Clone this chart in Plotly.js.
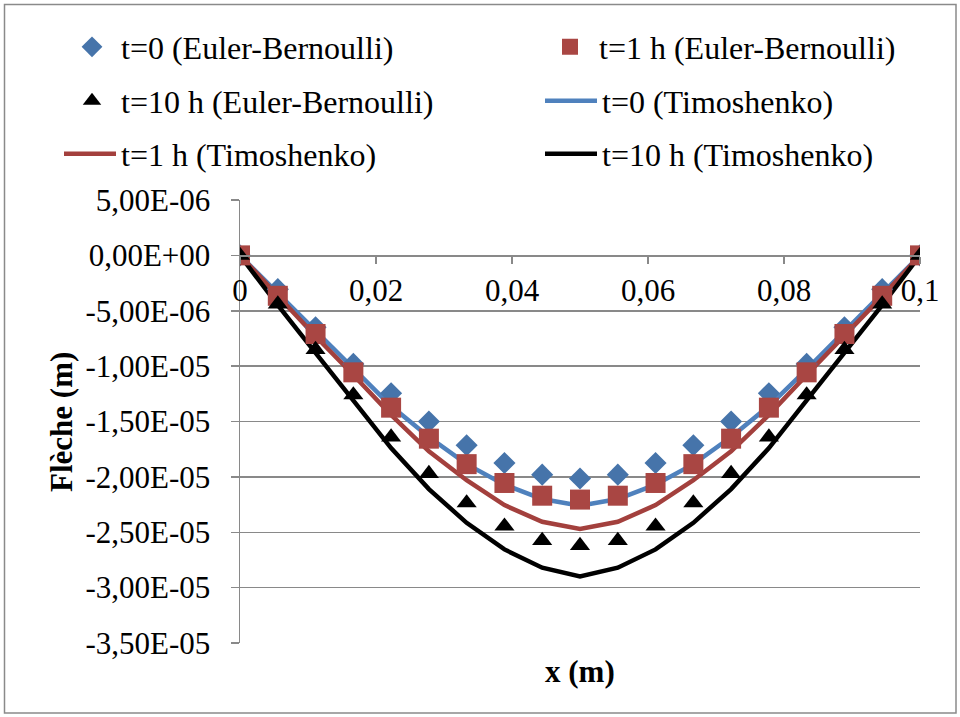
<!DOCTYPE html>
<html><head><meta charset="utf-8">
<script src="https://cdn.plot.ly/plotly-3.0.1.min.js"></script>
<style>html,body{margin:0;padding:0;background:#fff}#chart{width:960px;height:717px}</style>
</head><body><div id="chart"></div>
<script>
// x positions (m)
const xPos = [0, 0.00556, 0.01111, 0.01667, 0.02222, 0.02778, 0.03333, 0.03889, 0.04444, 0.05,
              0.05556, 0.06111, 0.06667, 0.07222, 0.07778, 0.08333, 0.08889, 0.09444, 0.1];
// Euler-Bernoulli (markers)
const ebT0  = [0, -3.05e-6, -6.5e-6, -9.8e-6, -1.245e-5, -1.5e-5, -1.715e-5, -1.875e-5, -1.98e-5, -2.015e-5,
               -1.98e-5, -1.875e-5, -1.715e-5, -1.5e-5, -1.245e-5, -9.8e-6, -6.5e-6, -3.05e-6, 0];
const ebT1  = [0, -3.65e-6, -7.1e-6, -1.056e-5, -1.375e-5, -1.655e-5, -1.885e-5, -2.055e-5, -2.17e-5, -2.205e-5,
               -2.17e-5, -2.055e-5, -1.885e-5, -1.655e-5, -1.375e-5, -1.056e-5, -7.1e-6, -3.65e-6, 0];
const ebT10 = [0, -4.4e-6, -8.5e-6, -1.26e-5, -1.64e-5, -1.97e-5, -2.235e-5, -2.445e-5, -2.575e-5, -2.62e-5,
               -2.575e-5, -2.445e-5, -2.235e-5, -1.97e-5, -1.64e-5, -1.26e-5, -8.5e-6, -4.4e-6, 0];
// Timoshenko (lines)
const tiT0  = [0, -3.4e-6, -6.9e-6, -1.03e-5, -1.36e-5, -1.64e-5, -1.885e-5, -2.07e-5, -2.2e-5, -2.26e-5,
               -2.2e-5, -2.07e-5, -1.885e-5, -1.64e-5, -1.36e-5, -1.03e-5, -6.9e-6, -3.4e-6, 0];
const tiT1  = [0, -3.7e-6, -7.3e-6, -1.08e-5, -1.44e-5, -1.77e-5, -2.03e-5, -2.255e-5, -2.405e-5, -2.47e-5,
               -2.405e-5, -2.255e-5, -2.03e-5, -1.77e-5, -1.44e-5, -1.08e-5, -7.3e-6, -3.7e-6, 0];
const tiT10 = [0, -4.5e-6, -8.8e-6, -1.31e-5, -1.74e-5, -2.11e-5, -2.415e-5, -2.655e-5, -2.82e-5, -2.9e-5,
               -2.82e-5, -2.655e-5, -2.415e-5, -2.11e-5, -1.74e-5, -1.31e-5, -8.8e-6, -4.5e-6, 0];

const seriesNames = ['t=0 (Euler-Bernoulli)', 't=1 h (Euler-Bernoulli)', 't=10 h (Euler-Bernoulli)',
                     't=0 (Timoshenko)', 't=1 h (Timoshenko)', 't=10 h (Timoshenko)'];
const xTickVals = [0, 0.02, 0.04, 0.06, 0.08, 0.1];
const xTickText = ['0', '0,02', '0,04', '0,06', '0,08', '0,1'];
const yTickVals = [5e-6, 0, -5e-6, -1e-5, -1.5e-5, -2e-5, -2.5e-5, -3e-5, -3.5e-5];
const yTickText = ['5,00E-06', '0,00E+00', '-5,00E-06', '-1,00E-05', '-1,50E-05', '-2,00E-05', '-2,50E-05', '-3,00E-05', '-3,50E-05'];
const xTitle = 'x (m)';
const yTitle = 'Flèche (m)';

const FONT = 'Liberation Serif, Times New Roman, serif';
const FS = 31;
const LFS = 32;
const GRID = '#898989';

const traces = [
  {x: xPos, y: tiT0, name: seriesNames[3], mode: 'lines', line: {color: '#4F81BD', width: 4.5}, legend: 'legend4'},
  {x: xPos, y: tiT1, name: seriesNames[4], mode: 'lines', line: {color: '#A3403D', width: 4.5}, legend: 'legend5'},
  {x: xPos, y: tiT10, name: seriesNames[5], mode: 'lines', line: {color: '#000000', width: 4.5}, legend: 'legend6'},
  {x: xPos, y: ebT0, name: seriesNames[0], mode: 'markers', marker: {symbol: 'diamond', size: 17, color: '#4674AA'}, legend: 'legend'},
  {x: xPos, y: ebT1, name: seriesNames[1], mode: 'markers', marker: {symbol: 'square', size: 20, color: '#A94643'}, legend: 'legend2'},
  {x: xPos, y: ebT10, name: seriesNames[2], mode: 'markers', marker: {symbol: 'triangle-up', size: 17.5, color: '#000000'}, legend: 'legend3'}
];

const plotL = 240, plotR = 920, plotT = 200, plotB = 643;
const pw = plotR - plotL, ph = plotB - plotT;
const px = v => (v - plotL) / pw;
const py = v => (plotB - v) / ph;

function legendAt(xPix, yPix, w) {
  return {x: px(xPix), y: py(yPix), xanchor: 'left', yanchor: 'middle', orientation: 'v',
          itemwidth: w,
          font: {family: FONT, size: LFS, color: '#000'}, bgcolor: 'rgba(0,0,0,0)', borderwidth: 0};
}

const layout = {
  width: 960, height: 717,
  margin: {l: plotL, r: 960 - plotR, t: plotT, b: 717 - plotB, pad: 0},
  paper_bgcolor: '#fff', plot_bgcolor: '#fff',
  font: {family: FONT, size: FS, color: '#000'},
  showlegend: true,
  legend:  legendAt(63, 47, 48),
  legend2: legendAt(541, 47, 48),
  legend3: legendAt(63, 101, 48),
  legend4: legendAt(540, 101, 52),
  legend5: legendAt(59, 154, 52),
  legend6: legendAt(540, 154, 52),
  xaxis: {
    range: [0, 0.1], anchor: 'free', position: 0.875,
    tickvals: xTickVals, ticktext: xTickText,
    showgrid: false, zeroline: false,
    showline: true, linecolor: GRID, linewidth: 1.5,
    ticks: 'outside', ticklen: 7, tickwidth: 1.5, tickcolor: GRID,
    tickfont: {family: FONT, size: FS, color: '#000'}
  },
  yaxis: {
    range: [-3.5e-5, 5e-6],
    tickvals: yTickVals, ticktext: yTickText,
    showgrid: true, gridcolor: GRID, gridwidth: 1.5, zeroline: false,
    showline: true, linecolor: GRID, linewidth: 1.5,
    ticks: 'outside', ticklen: 8, tickwidth: 1.5, tickcolor: GRID,
    ticklabelstandoff: 14,
    tickfont: {family: FONT, size: FS, color: '#000'}
  },
  annotations: [
    {text: '<b>' + xTitle + '</b>', xref: 'paper', yref: 'paper', x: px(580), y: py(671),
     xanchor: 'center', yanchor: 'middle', showarrow: false, font: {family: FONT, size: FS, color: '#000'}},
    {text: '<b>' + yTitle + '</b>', xref: 'paper', yref: 'paper', x: px(61), y: py(422), textangle: -90,
     xanchor: 'center', yanchor: 'middle', showarrow: false, font: {family: FONT, size: FS, color: '#000'}}
  ],
  shapes: [
    {type: 'rect', xref: 'paper', yref: 'paper', x0: px(4.5), x1: px(956), y0: py(713), y1: py(4.5),
     line: {color: '#8A8A8A', width: 1.5}, fillcolor: 'rgba(0,0,0,0)', layer: 'below'}
  ]
};

Plotly.newPlot('chart', traces, layout, {displayModeBar: false, staticPlot: true});
</script>
</body></html>
